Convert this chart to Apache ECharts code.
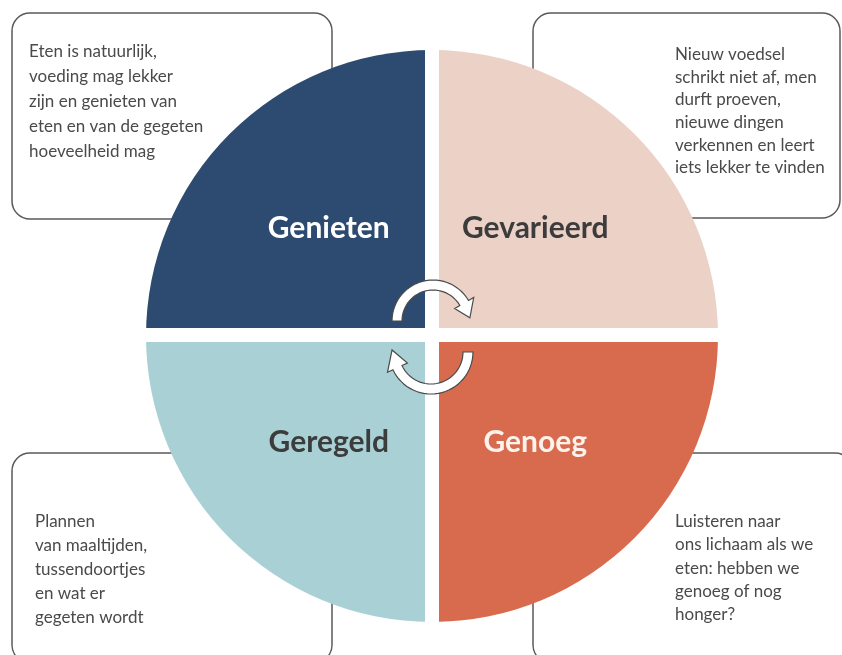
<!DOCTYPE html>
<html>
<head>
    <meta charset="utf-8">
    <title>4G</title>
    <script src="https://cdn.jsdelivr.net/npm/echarts@6/dist/echarts.min.js"></script>
    <style>
        html, body { margin: 0; padding: 0; background: #fff; }
    </style>
</head>
<body>
    <div id="main" style="width: 842px;height:655px;"></div>

    <script type="text/javascript">
        // quadrants, clockwise from top-left
        var names = ['Genieten', 'Gevarieerd', 'Genoeg', 'Geregeld'];
        var values = [1, 1, 1, 1];
        var colors = ['#2d4b70', '#ecd1c7', '#d86b4d', '#a9d1d5'];
        var labelColors = ['#ffffff', '#3c3c3c', '#fdf3ec', '#3c3c3c'];

        // texts in the corner boxes: top-left, top-right, bottom-right, bottom-left
        var boxTexts = [
            ['Eten is natuurlijk,', 'voeding mag lekker', 'zijn en genieten van', 'eten en van de gegeten', 'hoeveelheid mag'],
            ['Nieuw voedsel', 'schrikt niet af, men', 'durft proeven,', 'nieuwe dingen', 'verkennen en leert', 'iets lekker te vinden'],
            ['Luisteren naar', 'ons lichaam als we', 'eten: hebben we', 'genoeg of nog', 'honger?'],
            ['Plannen', 'van maaltijden,', 'tussendoortjes', 'en wat er', 'gegeten wordt']
        ];

        var myChart = echarts.init(document.getElementById('main'));

        var cx = 432, cy = 336, radius = 286;

        // points of a curved arrow (screen angles, clockwise)
        var arrowPoints = function (ox, oy, R, a0, a1, w, hw, tipA, tipR) {
            var pts = [];
            var pt = function (r, a) {
                var t = a * Math.PI / 180;
                return [ox + r * Math.cos(t), oy + r * Math.sin(t)];
            };
            var a;
            for (a = a0; a <= a1; a += 5) pts.push(pt(R + w, a));
            pts.push(pt(R + w, a1));
            pts.push(pt(R + hw, a1));
            pts.push(pt(tipR, a1 + tipA));
            pts.push(pt(R - hw, a1));
            pts.push(pt(R - w, a1));
            for (a = a1; a >= a0; a -= 5) pts.push(pt(R - w, a));
            pts.push(pt(R - w, a0));
            return pts;
        };

        var boxes = [
            { x: 12, y: 13, w: 320, h: 206, tx: 29, ty: 39, lh: 25 },
            { x: 533, y: 13, w: 307, h: 205, tx: 675, ty: 43, lh: 22.7 },
            { x: 533, y: 453, w: 320, h: 210, tx: 675, ty: 510, lh: 23.3 },
            { x: 12, y: 453, w: 320, h: 210, tx: 35, ty: 510, lh: 24 }
        ];

        var graphics = [];
        boxes.forEach(function (b, i) {
            graphics.push({
                type: 'rect',
                z: 0,
                shape: { x: b.x, y: b.y, width: b.w, height: b.h, r: 18 },
                style: { fill: '#fff', stroke: '#5a5a5a', lineWidth: 1.5 }
            });
            graphics.push({
                type: 'text',
                z: 0,
                x: b.tx,
                y: b.ty,
                style: {
                    text: boxTexts[i].join('\n'),
                    fontFamily: 'Lato',
                    fontSize: 17,
                    lineHeight: b.lh,
                    fill: '#4a4a4a',
                    verticalAlign: 'top'
                }
            });
        });

        // white cross between the quadrants
        graphics.push({
            type: 'rect', z: 5,
            shape: { x: 425, y: cy - radius - 2, width: 14, height: radius * 2 + 4 },
            style: { fill: '#fff' }
        });
        graphics.push({
            type: 'rect', z: 5,
            shape: { x: cx - radius - 2, y: 328, width: radius * 2 + 4, height: 14 },
            style: { fill: '#fff' }
        });

        // cycle arrows
        graphics.push({
            type: 'polygon', z: 10,
            shape: { points: arrowPoints(433, 321, 36, 180, 330, 5, 11, 25, 37) },
            style: { fill: '#fff', stroke: '#4a4a4a', lineWidth: 1.2 }
        });
        graphics.push({
            type: 'polygon', z: 10,
            shape: { points: arrowPoints(431, 352, 37, 0, 155, 5, 11, 28, 39) },
            style: { fill: '#fff', stroke: '#4a4a4a', lineWidth: 1.2 }
        });

        var option = {
            backgroundColor: '#fff',
            animation: false,
            graphic: { elements: graphics },
            series: [
                {
                    type: 'pie',
                    center: [cx, cy],
                    radius: [0, radius],
                    startAngle: 180,
                    clockwise: true,
                    silent: true,
                    z: 2,
                    data: names.map(function (n, i) {
                        return {
                            name: n,
                            value: values[i],
                            itemStyle: { color: colors[i] },
                            label: { color: labelColors[i] }
                        };
                    }),
                    label: {
                        show: true,
                        position: 'inside',
                        formatter: '{b}',
                        fontFamily: 'Lato',
                        fontWeight: 'bold',
                        fontSize: 30
                    },
                    labelLayout: function (params) {
                        var r = params.labelRect;
                        var top = r.y + r.height / 2 < cy;
                        return { dy: top ? -4 : 3 };
                    },
                    labelLine: { show: false }
                }
            ]
        };

        myChart.setOption(option);
    </script>
</body>
</html>
